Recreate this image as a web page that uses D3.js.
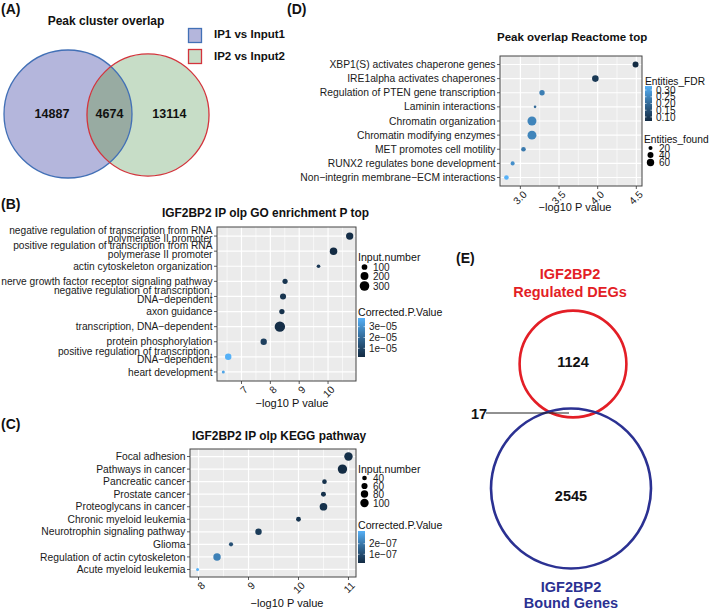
<!DOCTYPE html>
<html>
<head>
<meta charset="utf-8">
<script src="https://cdn.jsdelivr.net/npm/d3@7"></script>
<style>
  body { margin: 0; background: #fff; }
  svg { display: block; font-family: "Liberation Sans", Arial, sans-serif; }
</style>
</head>
<body>
<div id="chart"></div>
<script>
const width = 709, height = 610;

// (A) peak cluster overlap : only left, both, only right
const vennAsets = ["IP1 vs Input1", "IP2 vs Input2"];
const vennAcounts = [14887, 4674, 13114];

// (B) GO enrichment
const goTerms = [
  "negative regulation of transcription from RNA\npolymerase II promoter",
  "positive regulation of transcription from RNA\npolymerase II promoter",
  "actin cytoskeleton organization",
  "nerve growth factor receptor signaling pathway",
  "negative regulation of transcription,\nDNA−dependent",
  "axon guidance",
  "transcription, DNA−dependent",
  "protein phosphorylation",
  "positive regulation of transcription,\nDNA−dependent",
  "heart development"
];
const goLogP = [10.75, 10.19, 9.67, 8.51, 8.44, 8.40, 8.33, 7.77, 6.54, 6.37];
const goInput = [170, 180, 35, 80, 115, 85, 355, 125, 130, 20];
const goPadj = [0.3e-5, 0.2e-5, 0.6e-5, 0.5e-5, 0.5e-5, 0.4e-5, 0.3e-5, 0.8e-5, 3.8e-5, 3.5e-5];
const goXticks = [7, 8, 9, 10];
const goSizeBreaks = [100, 200, 300];
const goColBreaks = [3e-5, 2e-5, 1e-5];
const goColLabels = ["3e−05", "2e−05", "1e−05"];

// (C) KEGG pathway
const keggTerms = [
  "Focal adhesion", "Pathways in cancer", "Pancreatic cancer", "Prostate cancer",
  "Proteoglycans in cancer", "Chronic myeloid leukemia", "Neurotrophin signaling pathway",
  "Glioma", "Regulation of actin cytoskeleton", "Acute myeloid leukemia"
];
const keggLogP = [11.0, 10.88, 10.52, 10.50, 10.50, 10.0, 9.2, 8.65, 8.37, 7.98];
const keggInput = [100, 121, 40, 44, 85, 42, 64, 35, 81, 25];
const keggPadj = [0.3e-7, 0.18e-7, 0.35e-7, 0.35e-7, 0.35e-7, 0.4e-7, 0.6e-7, 1.1e-7, 2.2e-7, 3.2e-7];
const keggXticks = [8, 9, 10, 11];
const keggSizeBreaks = [40, 60, 80, 100];
const keggColBreaks = [2e-7, 1e-7];
const keggColLabels = ["2e−07", "1e−07"];

// (D) Reactome
const reactTerms = [
  "XBP1(S) activates chaperone genes", "IRE1alpha activates chaperones",
  "Regulation of PTEN gene transcription", "Laminin interactions",
  "Chromatin organization", "Chromatin modifying enzymes", "MET promotes cell motility",
  "RUNX2 regulates bone development", "Non−integrin membrane−ECM interactions"
];
const reactLogP = [4.49, 3.97, 3.28, 3.19, 3.15, 3.15, 3.04, 2.90, 2.82];
const reactFound = [40, 48, 33, 10, 87, 86, 25, 20, 25];
const reactFdr = [0.07, 0.10, 0.24, 0.20, 0.25, 0.25, 0.23, 0.27, 0.33];
const reactXticks = [3.0, 3.5, 4.0, 4.5];
const reactSizeBreaks = [20, 40, 60];
const reactColBreaks = [0.30, 0.25, 0.20, 0.15, 0.10];

// (E) DEGs vs bound genes : only regulated, both, only bound
const vennEsets = ["IGF2BP2\nRegulated DEGs", "IGF2BP2\nBound Genes"];
const vennEcounts = [1124, 17, 2545];

const svg = d3.select("#chart").append("svg")
    .attr("width", width).attr("height", height);
const defs = svg.append("defs");

function label(txt, x, y, size, opts = {}) {
  return svg.append("text").attr("x", x).attr("y", y)
    .attr("font-size", size).attr("font-weight", opts.bold ? "bold" : null)
    .attr("text-anchor", opts.anchor || "start")
    .attr("fill", opts.fill || "#111").text(txt);
}

// panel letters
label("(A)", 1, 14, 14, {bold: true});
label("(D)", 287, 14, 14, {bold: true});
label("(B)", 1, 209, 14, {bold: true});
label("(C)", 1, 429, 14, {bold: true});
label("(E)", 456, 263, 14, {bold: true});

// ---------- (A) venn ----------
{
  const tot = [vennAcounts[0] + vennAcounts[1], vennAcounts[2] + vennAcounts[1]];
  const r = d3.scaleSqrt().domain([0, d3.max(tot)]).range([0, 64]);
  const c1 = [68, 114], c2 = [148, 115];
  const r1 = r(tot[0]), r2 = r(tot[1]);
  const fills = ["#b4b6dc", "#c7ddc7"], strokes = ["#4270b6", "#d3343c"];

  defs.append("clipPath").attr("id", "clipA")
    .append("circle").attr("cx", c1[0]).attr("cy", c1[1]).attr("r", r1);

  svg.append("circle").attr("cx", c1[0]).attr("cy", c1[1]).attr("r", r1).attr("fill", fills[0]);
  svg.append("circle").attr("cx", c2[0]).attr("cy", c2[1]).attr("r", r2).attr("fill", fills[1]);
  svg.append("circle").attr("cx", c2[0]).attr("cy", c2[1]).attr("r", r2)
    .attr("fill", "#98aba2").attr("clip-path", "url(#clipA)");
  svg.append("circle").attr("cx", c1[0]).attr("cy", c1[1]).attr("r", r1)
    .attr("fill", "none").attr("stroke", strokes[0]).attr("stroke-width", 1.3);
  svg.append("circle").attr("cx", c2[0]).attr("cy", c2[1]).attr("r", r2)
    .attr("fill", "none").attr("stroke", strokes[1]).attr("stroke-width", 1.3);

  const nx = [c1[0] - r1 * 0.25, (c2[0] - r2 + c1[0] + r1) / 2, c2[0] + r2 * 0.35];
  vennAcounts.forEach((v, i) => label(d3.format("d")(v), nx[i], 118, 12.5, {bold: true, anchor: "middle"}));

  label("Peak cluster overlap", 106, 25, 12, {bold: true, anchor: "middle"});

  vennAsets.forEach((s, i) => {
    svg.append("rect").attr("x", 188.5).attr("y", 28.5 + i * 21).attr("width", 13).attr("height", 14)
      .attr("fill", fills[i]).attr("stroke", strokes[i]).attr("stroke-width", 1.3);
    label(s, 214, 38 + i * 21.5, 11.5, {bold: true});
  });
}

// ---------- dot plots ----------
function dotPanel(o) {
  const [bx0, by0, bx1, by1] = o.box;
  const [a, b] = d3.extent(o.xs), pad = (b - a) * 0.05;
  const x = d3.scaleLinear().domain([a - pad, b + pad]).range([bx0, bx1]);
  const y = d3.scalePoint().domain(o.cats).range([by0, by1]).padding(0.6);
  const area = d3.scaleLinear().domain(d3.extent(o.ns)).range([o.r[0] ** 2, o.r[1] ** 2]);
  const rad = v => Math.sqrt(Math.max(0.1, area(v)));
  const cdom = d3.extent(o.ps);
  const col = d3.scaleLinear().domain(cdom).range(["#132B43", "#56B1F7"]).interpolate(d3.interpolateLab);

  const g = svg.append("g");
  g.append("rect").attr("x", bx0).attr("y", by0).attr("width", bx1 - bx0).attr("height", by1 - by0)
    .attr("fill", "#ebebeb");

  const step = o.xticks[1] - o.xticks[0];
  const minor = d3.range(o.xticks[0] - step * 2.5, o.xticks[o.xticks.length - 1] + step * 2, step)
    .filter(v => v > x.domain()[0] && v < x.domain()[1]);
  g.selectAll(".minor").data(minor).join("line")
    .attr("x1", d => x(d)).attr("x2", d => x(d)).attr("y1", by0).attr("y2", by1)
    .attr("stroke", "#fff").attr("stroke-width", 0.6);
  g.selectAll(".vmaj").data(o.xticks).join("line")
    .attr("x1", d => x(d)).attr("x2", d => x(d)).attr("y1", by0).attr("y2", by1)
    .attr("stroke", "#fff").attr("stroke-width", 1.2);
  g.selectAll(".hmaj").data(o.cats).join("line")
    .attr("x1", bx0).attr("x2", bx1).attr("y1", d => y(d)).attr("y2", d => y(d))
    .attr("stroke", "#fff").attr("stroke-width", 1.2);

  g.selectAll(".dot").data(o.cats).join("circle")
    .attr("cx", (d, i) => x(o.xs[i])).attr("cy", d => y(d))
    .attr("r", (d, i) => rad(o.ns[i])).attr("fill", (d, i) => col(o.ps[i]));

  g.append("rect").attr("x", bx0).attr("y", by0).attr("width", bx1 - bx0).attr("height", by1 - by0)
    .attr("fill", "none").attr("stroke", "#444").attr("stroke-width", 1);

  // y axis
  g.selectAll(".yt").data(o.cats).join("line")
    .attr("x1", bx0 - 3).attr("x2", bx0).attr("y1", d => y(d)).attr("y2", d => y(d))
    .attr("stroke", "#333").attr("stroke-width", 0.8);
  o.cats.forEach(c => {
    const lines = c.split("\n");
    const t = g.append("text").attr("text-anchor", "end").attr("font-size", o.fs).attr("fill", "#1a1a1a");
    const y0 = y(c) + 3.6 - (lines.length - 1) * 5.6;
    lines.forEach((l, i) => t.append("tspan").attr("x", bx0 - 4.5).attr("y", y0 + i * 8.4).text(l));
  });

  // x axis
  g.selectAll(".xt").data(o.xticks).join("line")
    .attr("x1", d => x(d)).attr("x2", d => x(d)).attr("y1", by1).attr("y2", by1 + 3)
    .attr("stroke", "#333").attr("stroke-width", 0.8);
  g.selectAll(".xl").data(o.xticks).join("text")
    .attr("transform", d => `translate(${x(d) + 2},${by1 + 4}) rotate(-45)`)
    .attr("dy", "0.71em").attr("text-anchor", "end")
    .attr("font-size", o.fs).attr("fill", "#1a1a1a").text(o.xfmt);
  label("−log10 P value", o.xtitle[0], o.xtitle[1], 11, {anchor: "middle"});

  label(o.title, o.titlePos[0], o.titlePos[1], o.tfs, {bold: true});

  // colour legend
  const cl = o.colLeg;
  label(cl.title, cl.x, cl.ty, o.lfs);
  const gid = "grad" + o.id;
  const grad = defs.append("linearGradient").attr("id", gid)
    .attr("x1", 0).attr("y1", 1).attr("x2", 0).attr("y2", 0);
  d3.range(0, 1.01, 0.1).forEach(t => grad.append("stop")
    .attr("offset", t).attr("stop-color", col(cdom[0] + t * (cdom[1] - cdom[0]))));
  svg.append("rect").attr("x", cl.x).attr("y", cl.y0).attr("width", 7).attr("height", cl.y1 - cl.y0)
    .attr("fill", `url(#${gid})`);
  const cy = d3.scaleLinear().domain(cdom).range([cl.y1, cl.y0]);
  cl.breaks.forEach((v, i) => {
    svg.append("line").attr("x1", cl.x).attr("x2", cl.x + 1.5).attr("y1", cy(v)).attr("y2", cy(v))
      .attr("stroke", "#fff").attr("stroke-width", 0.6);
    svg.append("line").attr("x1", cl.x + 5.5).attr("x2", cl.x + 7).attr("y1", cy(v)).attr("y2", cy(v))
      .attr("stroke", "#fff").attr("stroke-width", 0.6);
    label(cl.labels[i], cl.x + 11, cy(v) + 3.6, 10, {fill: "#1a1a1a"});
  });

  // size legend
  const sl = o.sizeLeg;
  label(sl.title, sl.x, sl.ty, o.lfs);
  sl.breaks.forEach((v, i) => {
    svg.append("circle").attr("cx", sl.x + 6.5).attr("cy", sl.keys[i]).attr("r", rad(v)).attr("fill", "#000");
    label(d3.format("d")(v), sl.x + 15, sl.keys[i] + 3.6, 10, {fill: "#1a1a1a"});
  });
}

dotPanel({
  id: "D", box: [500, 56, 642, 186], cats: reactTerms, xs: reactLogP, ns: reactFound, ps: reactFdr,
  r: [1.3, 4.5], fs: 10.3, tfs: 11.5, lfs: 10.2, xticks: reactXticks, xfmt: d3.format(".1f"),
  xtitle: [575, 211], title: "Peak overlap Reactome top", titlePos: [497, 41],
  colLeg: {title: "Entities_FDR", x: 645, ty: 85, y0: 86, y1: 121, breaks: reactColBreaks,
           labels: reactColBreaks.map(d3.format(".2f"))},
  sizeLeg: {title: "Entities_found", x: 644, ty: 143, breaks: reactSizeBreaks, keys: [148, 155, 162.5]}
});

dotPanel({
  id: "B", box: [217, 227, 356, 381], cats: goTerms, xs: goLogP, ns: goInput, ps: goPadj,
  r: [1.5, 5.2], fs: 10.2, tfs: 11.9, lfs: 10.6, xticks: goXticks, xfmt: d3.format("d"),
  xtitle: [292, 407], title: "IGF2BP2 IP olp GO enrichment P top", titlePos: [162, 216.5],
  colLeg: {title: "Corrected.P.Value", x: 358, ty: 316, y0: 318, y1: 357, breaks: goColBreaks, labels: goColLabels},
  sizeLeg: {title: "Input.number", x: 358, ty: 261, breaks: goSizeBreaks, keys: [267, 276, 286]}
});

dotPanel({
  id: "C", box: [190, 449, 356, 577], cats: keggTerms, xs: keggLogP, ns: keggInput, ps: keggPadj,
  r: [1.5, 4.7], fs: 10.3, tfs: 11.9, lfs: 10.6, xticks: keggXticks, xfmt: d3.format("d"),
  xtitle: [287, 607], title: "IGF2BP2 IP olp KEGG pathway", titlePos: [192, 439.5],
  colLeg: {title: "Corrected.P.Value", x: 358, ty: 529, y0: 531, y1: 563, breaks: keggColBreaks, labels: keggColLabels},
  sizeLeg: {title: "Input.number", x: 358, ty: 473, breaks: keggSizeBreaks, keys: [478, 486, 494, 503]}
});

// ---------- (E) venn ----------
{
  const tot = [vennEcounts[0] + vennEcounts[1], vennEcounts[2] + vennEcounts[1]];
  const r = d3.scaleSqrt().domain([0, d3.max(tot)]).range([0, 80]);
  const cRed = [573, 364], cBlue = [571, 488.5];
  const red = "#e31e26", blue = "#2b3192";
  svg.append("circle").attr("cx", cRed[0]).attr("cy", cRed[1]).attr("r", r(tot[0]))
    .attr("fill", "none").attr("stroke", red).attr("stroke-width", 2.6);
  svg.append("circle").attr("cx", cBlue[0]).attr("cy", cBlue[1]).attr("r", r(tot[1]))
    .attr("fill", "none").attr("stroke", blue).attr("stroke-width", 2.6);

  label(d3.format("d")(vennEcounts[0]), cRed[0], 367, 14.5, {bold: true, anchor: "middle"});
  label(d3.format("d")(vennEcounts[2]), cBlue[0], 501, 14.5, {bold: true, anchor: "middle"});
  label(d3.format("d")(vennEcounts[1]), 479, 419, 14.5, {bold: true, anchor: "middle"});
  svg.append("line").attr("x1", 486).attr("x2", 569).attr("y1", 413).attr("y2", 413)
    .attr("stroke", "#222").attr("stroke-width", 1);

  const [t1, t2] = vennEsets[0].split("\n");
  label(t1, 570, 279, 14.5, {bold: true, anchor: "middle", fill: red});
  label(t2, 570, 296.5, 14.5, {bold: true, anchor: "middle", fill: red});
  const [b1, b2] = vennEsets[1].split("\n");
  label(b1, 571, 591.5, 14.5, {bold: true, anchor: "middle", fill: blue});
  label(b2, 571, 607.5, 14.5, {bold: true, anchor: "middle", fill: blue});
}
</script>
</body>
</html>
